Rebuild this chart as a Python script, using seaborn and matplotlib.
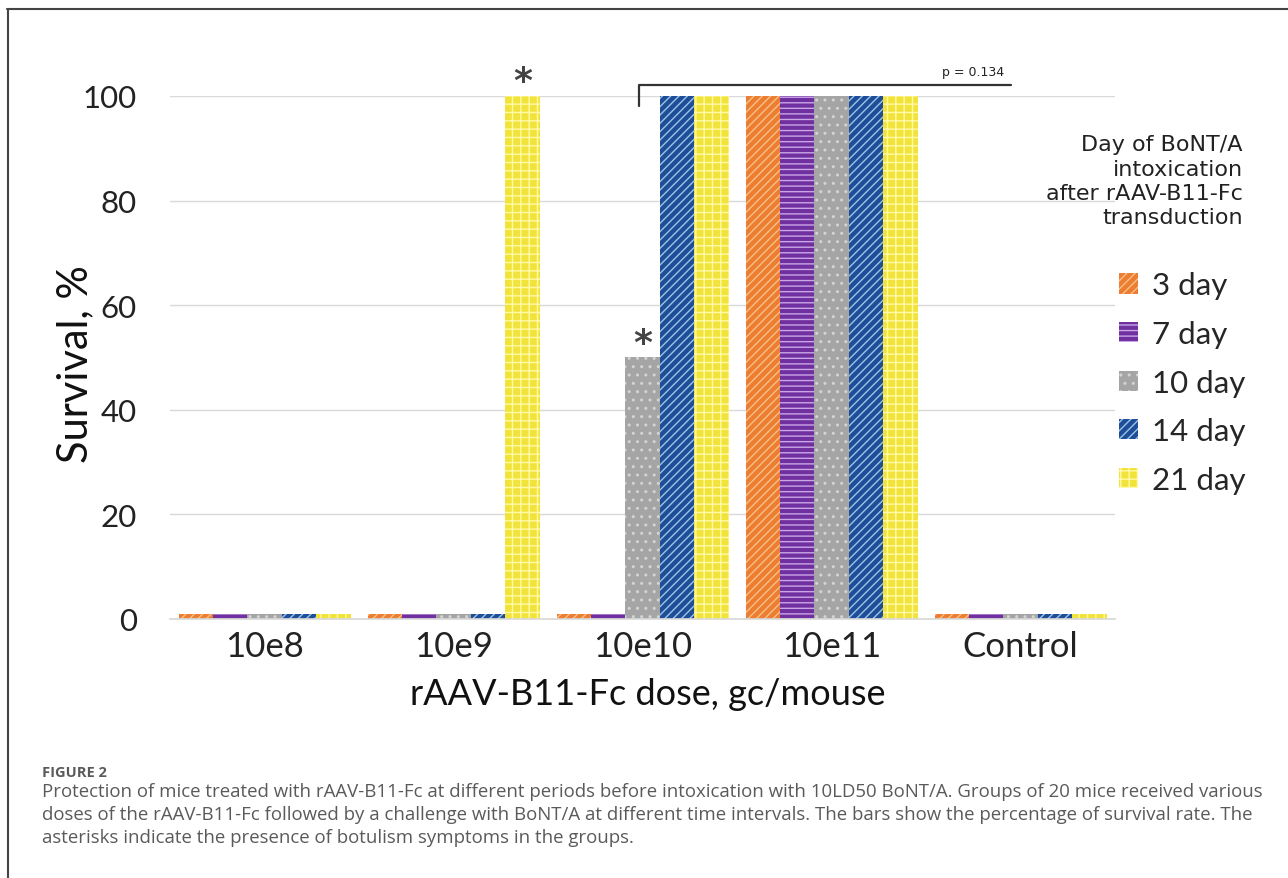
import pandas as pd
import seaborn as sns
import matplotlib.pyplot as plt
from matplotlib.lines import Line2D

doses = ["10e8", "10e9", "10e10", "10e11", "Control"]
days = ["3 day", "7 day", "10 day", "14 day", "21 day"]

# survival %, one list per day of intoxication (zero groups drawn as a thin stub like the original)
day3 = [1, 1, 1, 100, 1]
day7 = [1, 1, 1, 100, 1]
day10 = [1, 1, 50, 100, 1]
day14 = [1, 1, 100, 100, 1]
day21 = [1, 100, 100, 100, 1]

colors = ["#ED7D31", "#7030A0", "#A5A5A5", "#1F4E99", "#F2E33A"]
hatch_colors = ["#F6C08A", "#C9A6E6", "#D4D4D4", "#9DC3E6", "#FFF9A8"]
hatches = ["////", "---", "..", "////", "++"]

df = pd.DataFrame({
    "dose": doses * 5,
    "day": [d for d in days for _ in doses],
    "survival": day3 + day7 + day10 + day14 + day21,
})

sns.set_theme(style="white")
plt.rcParams["hatch.linewidth"] = 1.0

fig = plt.figure(figsize=(12.88, 8.79), dpi=100)
ax = fig.add_axes([0.132, 0.2947, 0.7337, 0.595])

sns.barplot(data=df, x="dose", y="survival", hue="day", order=doses, hue_order=days,
            palette=colors, width=0.91, gap=0, saturation=1, ax=ax, legend=False)

for i, cont in enumerate(ax.containers):
    for bar in cont:
        bar.set_hatch(hatches[i])
        bar.set_edgecolor(hatch_colors[i])
        bar.set_linewidth(0)

ax.set_xlim(-0.5, 4.5)
ax.set_ylim(0, 100)
ax.set_yticks([0, 20, 40, 60, 80, 100])
ax.yaxis.grid(True, color="#D9D9D9", linewidth=1)
ax.set_axisbelow(True)
for s in ["left", "right", "top"]:
    ax.spines[s].set_visible(False)
ax.spines["bottom"].set_color("#D9D9D9")
ax.tick_params(axis="x", length=0, labelsize=25, colors="#222222", pad=8)
ax.tick_params(axis="y", length=0, labelsize=22.5, colors="#222222", pad=24)
for lab in ax.get_xticklabels() + ax.get_yticklabels():
    lab.set_family("Lato")

ax.set_xlabel("rAAV-B11-Fc dose, gc/mouse", fontsize=26, family="Lato", color="#111111")
ax.set_ylabel("Survival, %", fontsize=30, family="Lato", color="#111111", va="center")
ax.yaxis.set_label_coords(-0.1, 0.49)
ax.xaxis.set_label_coords(0.506, -0.143)
ax.xaxis.label.set_va("center")

# asterisks and p-value bracket
ax.text(1.364, 99.6, "*", ha="center", va="bottom", fontsize=26, weight="bold", color="#444444", clip_on=False)
ax.text(2.0, 49.6, "*", ha="center", va="bottom", fontsize=26, weight="bold", color="#444444")
ax.plot([1.98, 1.98, 3.95], [98, 102.0, 102.0], color="#333333", linewidth=1.6, clip_on=False)
ax.text(3.75, 103.4, "p = 0.134", ha="center", va="bottom", fontsize=9, color="#222222")

# legend
handles = [plt.Rectangle((0, 0), 1, 1, facecolor=colors[i], edgecolor=hatch_colors[i],
                         hatch=hatches[i], linewidth=0) for i in range(5)]
leg = fig.legend(handles, days, loc="upper left", bbox_to_anchor=(0.847, 0.722), frameon=False,
                 handlelength=0.62, handleheight=0.62, handletextpad=0.45,
                 labelspacing=0.66, prop={"family": "Lato", "size": 22.5})
fig.text(0.965, 0.846, "Day of BoNT/A\nintoxication\nafter rAAV-B11-Fc\ntransduction",
         ha="right", va="top", multialignment="right", fontsize=16, color="#222222",
         linespacing=1.27)

# caption
fig.text(0.0326, 0.116, "FIGURE 2", fontsize=10.5, weight="bold", color="#5a5a5a", family="Open Sans")
caption = ("Protection of mice treated with rAAV-B11-Fc at different periods before intoxication with 10LD50 BoNT/A. Groups of 20 mice received various\n"
           "doses of the rAAV-B11-Fc followed by a challenge with BoNT/A at different time intervals. The bars show the percentage of survival rate. The\n"
           "asterisks indicate the presence of botulism symptoms in the groups.")
fig.text(0.0326, 0.109, caption, fontsize=13.45, color="#5a5a5a", family="Open Sans",
         va="top", linespacing=1.36)

# frame lines round the figure (top and left)
fig.add_artist(Line2D([0.0055, 1.0], [0.9886, 0.9886], color="#444444", linewidth=1.5))
fig.add_artist(Line2D([0.0062, 0.0062], [0.0, 0.9886], color="#444444", linewidth=1.5))

fig.savefig("out.png", dpi=100, facecolor="white")
